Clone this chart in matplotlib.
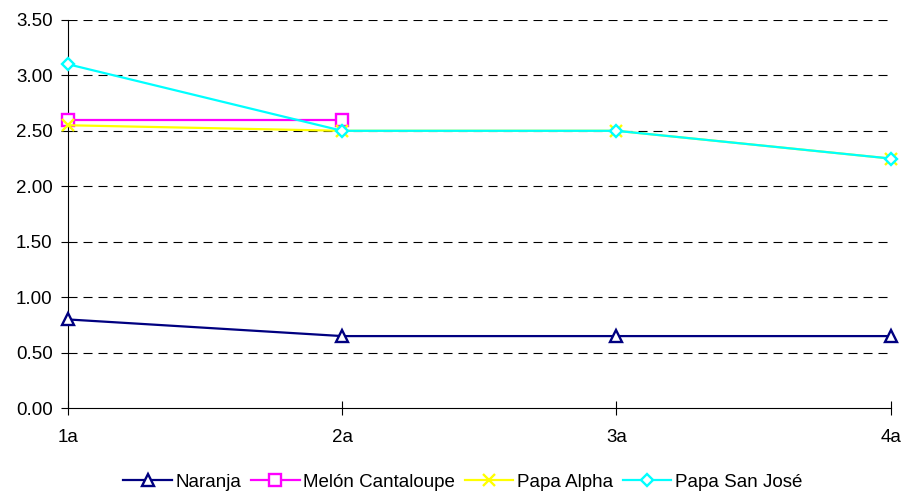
import matplotlib.pyplot as plt
import numpy as np

plt.rcParams['font.family'] = ['Liberation Sans', 'DejaVu Sans']
plt.rcParams['lines.scale_dashes'] = False

categories = ['1a', '2a', '3a', '4a']
naranja = [0.80, 0.65, 0.65, 0.65]
melon = [2.60, 2.60, np.nan, np.nan]
papa_alpha = [2.55, 2.50, 2.50, 2.25]
papa_sanjose = [3.10, 2.50, 2.50, 2.25]

series = [
    ('Naranja', naranja, '#000080', '^', 9),
    ('Melón Cantaloupe', melon, '#FF00FF', 's', 8),
    ('Papa Alpha', papa_alpha, '#FFFF00', 'x', 8.5),
    ('Papa San José', papa_sanjose, '#00FFFF', 'D', 6.5),
]

fig = plt.figure(figsize=(9.06, 4.96), dpi=100)
ax = fig.add_axes([0.075, 0.177, 0.908, 0.783])

x = np.arange(len(categories))
for name, vals, col, mk, ms in series:
    ax.plot(x, vals, color=col, linewidth=1.6, marker=mk, markersize=ms,
            markerfacecolor='white' if mk != 'x' else col,
            markeredgecolor=col, markeredgewidth=1.7, label=name,
            zorder=3, clip_on=False)

ax.set_xlim(0, 3)
ax.set_ylim(0, 3.5)
ax.set_yticks(np.arange(0, 3.51, 0.5))
ax.set_yticklabels(['%.2f' % v for v in np.arange(0, 3.51, 0.5)])
ax.set_xticks(x)
ax.set_xticklabels(categories)

for yv in np.arange(0.5, 3.51, 0.5):
    ax.axhline(yv, color='black', linewidth=0.8, linestyle=(0, (6.5, 4.3)), zorder=1)

for s in ['top', 'right']:
    ax.spines[s].set_visible(False)
ax.spines['left'].set_linewidth(0.8)
ax.spines['bottom'].set_linewidth(0.8)
ax.tick_params(axis='y', direction='out', length=5, width=0.8, labelsize=13.5, pad=6)
ax.tick_params(axis='x', direction='inout', length=10, width=0.8, labelsize=13.5, pad=10)

ax.legend(loc='upper center', bbox_to_anchor=(0.48, -0.125), ncol=4, frameon=False,
          fontsize=13.5, handlelength=2.6, handletextpad=0.2, columnspacing=0.5)

plt.savefig('out.png', dpi=100)
